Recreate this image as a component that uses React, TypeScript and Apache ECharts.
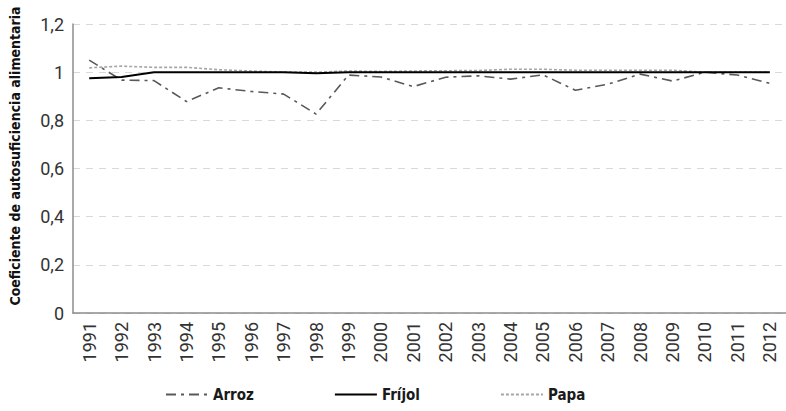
import React, { useEffect, useRef } from "react";
import * as echarts from "echarts";

const years = ["1991","1992","1993","1994","1995","1996","1997","1998","1999","2000","2001","2002","2003","2004","2005","2006","2007","2008","2009","2010","2011","2012"];
const arroz = [1.05, 0.967, 0.965, 0.878, 0.935, 0.92, 0.909, 0.826, 0.988, 0.98, 0.94, 0.979, 0.985, 0.971, 0.989, 0.925, 0.95, 0.992, 0.963, 1.0, 0.988, 0.953];
const frijol = [0.975, 0.98, 1.0, 1.0, 1.0, 1.0, 1.0, 0.996, 1.0, 1.0, 1.0, 1.0, 1.0, 1.0, 1.0, 1.0, 1.0, 1.0, 1.0, 1.0, 1.0, 1.0];
const papa = [1.018, 1.025, 1.02, 1.02, 1.01, 1.005, 1.0, 1.0, 1.005, 1.003, 1.005, 1.006, 1.007, 1.012, 1.012, 1.008, 1.008, 1.008, 1.008, 1.0, 1.0, 1.0];
const yTicks = [0, 0.2, 0.4, 0.6, 0.8, 1, 1.2];

const condensed = "'Liberation Sans Narrow', 'DejaVu Sans Condensed', 'Roboto', sans-serif";

export default function App() {
  const ref = useRef<HTMLDivElement>(null);
  useEffect(() => {
    const chart = echarts.init(ref.current!, undefined, { renderer: "svg" });
    chart.setOption({
      animation: false,
      grid: { left: 73, right: 0, top: 24, bottom: 98 },
      legend: {
        bottom: 4,
        left: 160,
        itemWidth: 42,
        itemHeight: 10,
        itemGap: 80,
        itemStyle: { opacity: 0 },
        textStyle: { fontFamily: condensed, fontWeight: "bold", fontSize: 15, color: "#1a1a1a" },
        data: ["Arroz", "Fríjol", "Papa"],
      },
      graphic: [
        {
          type: "text",
          x: 8,
          y: 156,
          rotation: Math.PI / 2,
          style: {
            text: "Coeficiente de autosuficiencia alimentaria",
            fontFamily: condensed,
            fontWeight: "bold",
            fontSize: 14,
            fill: "#111",
            align: "center",
            verticalAlign: "top",
          },
        },
      ],
      xAxis: {
        type: "category",
        data: years,
        boundaryGap: true,
        axisLine: { lineStyle: { color: "#8c8c8c", width: 1.5 } },
        axisTick: { show: false },
        axisLabel: { rotate: 90, margin: 9, fontSize: 18, color: "#333", fontFamily: "Roboto, sans-serif", interval: 0 },
      },
      yAxis: {
        type: "value",
        min: 0,
        max: 1.2,
        interval: 0.2,
        axisLine: { show: true, lineStyle: { color: "#8c8c8c", width: 1.5 } },
        axisTick: { show: false },
        splitLine: { lineStyle: { color: "#d9d9d9", type: [7, 6], width: 1 } },
        axisLabel: {
          margin: 9,
          fontSize: 18,
          color: "#333",
          fontFamily: "Roboto, sans-serif",
          formatter: (v: number) => {
            const t = yTicks.find((x) => Math.abs(x - v) < 1e-6);
            return String(Number((t ?? v).toFixed(1))).replace(".", ",");
          },
        },
      },
      series: [
        {
          name: "Arroz",
          type: "line",
          data: arroz,
          symbol: "none",
          z: 2,
          lineStyle: { color: "#595959", width: 1.6, type: [10, 5, 3, 5] },
          itemStyle: { color: "#595959" },
        },
        {
          name: "Fríjol",
          type: "line",
          data: frijol,
          symbol: "none",
          z: 3,
          lineStyle: { color: "#000", width: 2 },
          itemStyle: { color: "#000" },
        },
        {
          name: "Papa",
          type: "line",
          data: papa,
          symbol: "none",
          z: 1,
          lineStyle: { color: "#a6a6a6", width: 1.6, type: [3, 2] },
          itemStyle: { color: "#a6a6a6" },
        },
      ],
    });
    return () => chart.dispose();
  }, []);
  return <div ref={ref} style={{ width: 786, height: 411, position: "absolute", left: 0, top: 0 }} />;
}
